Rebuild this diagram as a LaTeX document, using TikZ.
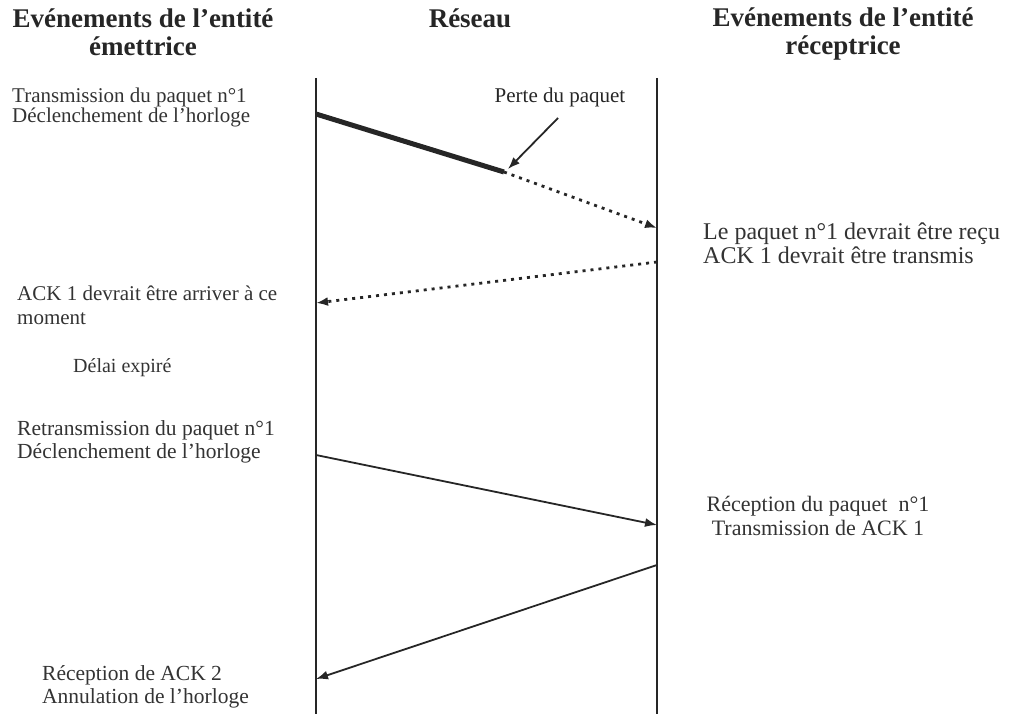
\documentclass[tikz,border=0pt]{standalone}
\usepackage{fontspec}
\setmainfont{Liberation Serif}
\usetikzlibrary{arrows.meta}

\tikzset{
  head/.style={font=\fontsize{27}{28}\selectfont\bfseries, align=center, inner sep=0pt, anchor=base, text=black!85},
  note/.style={font=\fontsize{21}{18}\selectfont, align=left, inner sep=0pt, anchor=base west, text=black!80},
  lifeline/.style={line width=2pt, black!85},
  msg/.style={-{Latex[length=12pt,width=9pt]}, line width=1.8pt, black!85},
  lost/.style={msg, dash pattern=on 3pt off 5pt, line width=2.8pt},
}

\begin{document}
\begin{tikzpicture}[x=1pt,y=-1pt]
\useasboundingbox (0,0) rectangle (1009,714);
% titres
\node[head] (hsend) at (143,56) {Evénements de l'entité\\émettrice};
\node[head] (hnet) at (470,28) {Réseau};
\node[head] (hrecv) at (843,55) {Evénements de l'entité\\réceptrice};
% lignes de vie
\coordinate (s0) at (316,78);
\coordinate (s1) at (316,714);
\coordinate (r0) at (657,78);
\coordinate (r1) at (657,714);
\draw[lifeline] (s0) -- (s1);
\draw[lifeline] (r0) -- (r1);
% messages
\coordinate (p1) at (316,114);
\coordinate (loss) at (504,172);
\coordinate (p1r) at (657,228);
\coordinate (a1r) at (657,262);
\coordinate (a1s) at (316,303);
\coordinate (p2) at (316,455);
\coordinate (p2r) at (657,525);
\coordinate (a2r) at (657,565);
\coordinate (a2s) at (316,679);
\draw[line width=5pt, black!85] (p1) -- (loss);
\draw[lost] (loss) -- (p1r);
\draw[lost] (a1r) -- (a1s);
\draw[msg] (p2) -- (p2r);
\draw[msg] (a2r) -- (a2s);
% perte
\node[font=\fontsize{21}{24}\selectfont, inner sep=0pt, text=black!85] (perte) at (560,97) {Perte du paquet};
\coordinate (pfrom) at (558,118);
\coordinate (pto) at (508,169);
\draw[msg] (pfrom) -- (pto);
% evenements
\node[note] (t1) at (12,123) {Transmission du paquet n°1\\Déclenchement de l'horloge};
\node[note, font=\fontsize{24}{24}\selectfont] (t2) at (703,263) {Le paquet n°1 devrait être reçu\\ACK 1 devrait être transmis};
\node[note, font=\fontsize{21}{24}\selectfont] (t3) at (17,324) {ACK 1 devrait être arriver à ce\\moment};
\node[note, font=\fontsize{20}{24}\selectfont] (t4) at (73,372) {Délai expiré};
\node[note, font=\fontsize{21.5}{23}\selectfont] (t5) at (17,458) {Retransmission du paquet n°1\\Déclenchement de l'horloge};
\node[note, align=center, anchor=base, font=\fontsize{22}{24}\selectfont] (t6) at (818,535) {Réception du paquet\ \ n°1\\Transmission de ACK 1};
\node[note, font=\fontsize{21.5}{23}\selectfont] (t7) at (42,703) {Réception de ACK 2\\Annulation de l'horloge};
\end{tikzpicture}
\end{document}
